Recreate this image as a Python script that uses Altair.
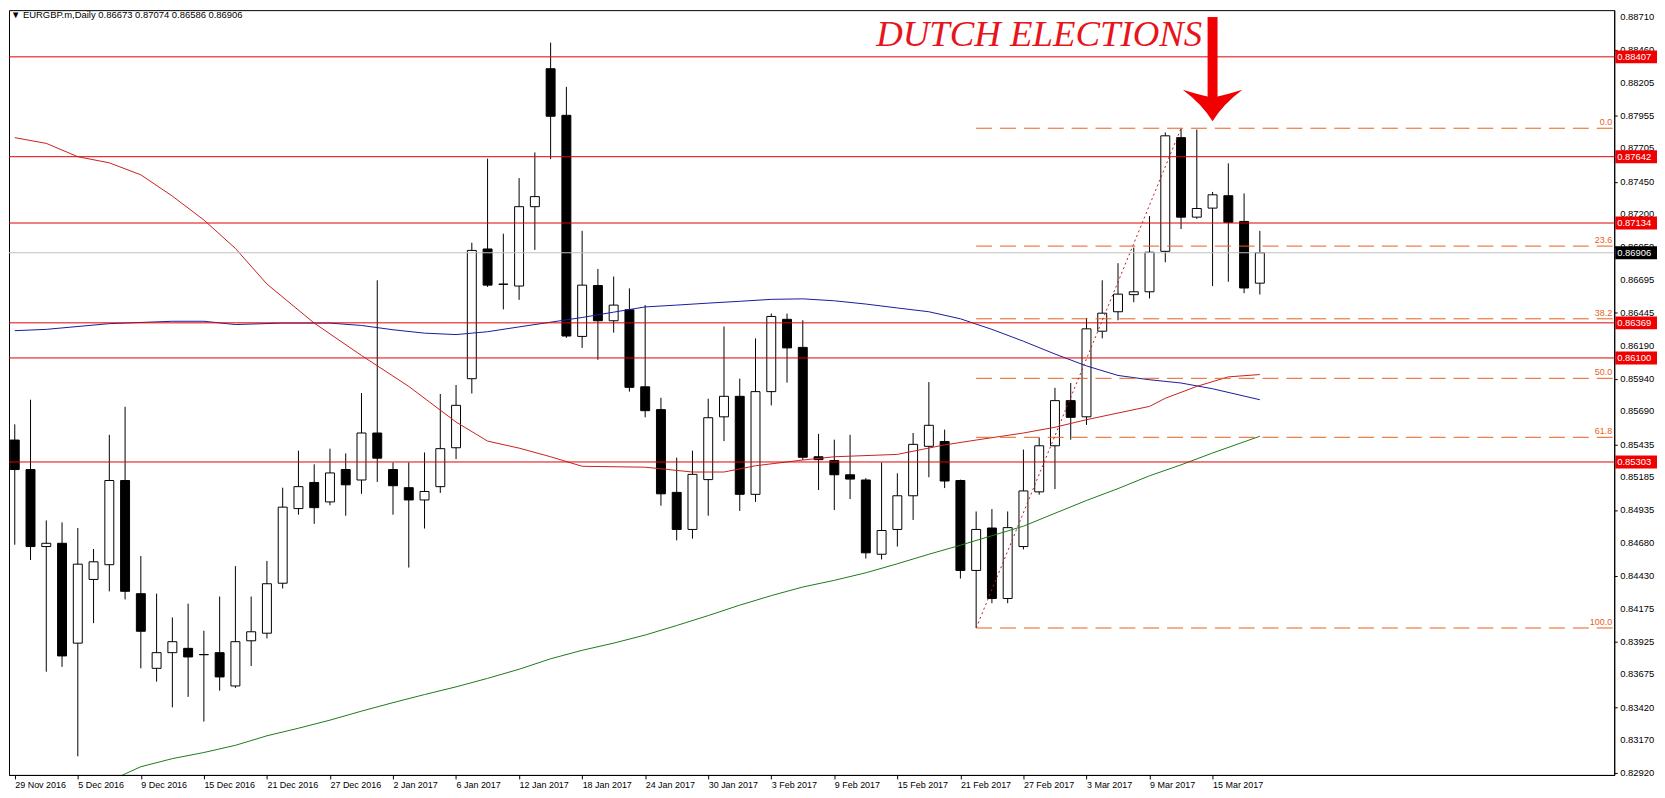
import altair as alt
import pandas as pd

# ---------------- data ----------------
bar_index = list(range(80))
opens = [0.85471, 0.85245, 0.84655, 0.84680, 0.83915, 0.84403, 0.84516, 0.85161, 0.84294, 0.83722,
         0.83842, 0.83875, 0.83828, 0.83842, 0.83587, 0.83933, 0.83991, 0.84374, 0.84946, 0.85146,
         0.84997, 0.85245, 0.85165, 0.85525, 0.85245, 0.85106, 0.85012, 0.85114, 0.85412, 0.85941,
         0.86935, 0.86666, 0.86651, 0.87259, 0.88316, 0.87959, 0.86265, 0.86655, 0.86385, 0.86469,
         0.85879, 0.85704, 0.85070, 0.84786, 0.85168, 0.85649, 0.85806, 0.85055, 0.85842, 0.86396,
         0.86181, 0.85343, 0.85314, 0.85205, 0.85165, 0.84596, 0.84786, 0.85044, 0.85423, 0.85460,
         0.85161, 0.84472, 0.84797, 0.84257, 0.84655, 0.85074, 0.85427, 0.85773, 0.85649, 0.86305,
         0.86454, 0.86585, 0.86607, 0.86917, 0.87788, 0.87179, 0.87248, 0.87343, 0.87146, 0.86673]
highs = [0.85591, 0.85780, 0.84855, 0.84840, 0.84797, 0.84636, 0.85511, 0.85726, 0.84582, 0.84294,
         0.84112, 0.84217, 0.84010, 0.84272, 0.84505, 0.84272, 0.84545, 0.85106, 0.85390, 0.85285,
         0.85405, 0.85369, 0.85831, 0.86695, 0.85299, 0.85299, 0.85376, 0.85824, 0.85893, 0.86983,
         0.87627, 0.87052, 0.87478, 0.87675, 0.88516, 0.88177, 0.87074, 0.86782, 0.86724, 0.86633,
         0.86505, 0.85795, 0.85336, 0.85390, 0.85788, 0.86341, 0.85941, 0.86250, 0.86440, 0.86440,
         0.86389, 0.85518, 0.85474, 0.85511, 0.85179, 0.85299, 0.85216, 0.85525, 0.85915, 0.85551,
         0.85168, 0.84924, 0.84942, 0.84924, 0.85398, 0.85489, 0.85871, 0.85908, 0.86407, 0.86695,
         0.86826, 0.86946, 0.87187, 0.87828, 0.87857, 0.87850, 0.87372, 0.87591, 0.87361, 0.87074]
lows = [0.84669, 0.84552, 0.83696, 0.83733, 0.83048, 0.84068, 0.84312, 0.84250, 0.83722, 0.83620,
        0.83423, 0.83503, 0.83314, 0.83551, 0.83572, 0.83740, 0.83951, 0.84334, 0.84899, 0.84829,
        0.84971, 0.84891, 0.85059, 0.85150, 0.84899, 0.84494, 0.84793, 0.85066, 0.85325, 0.85828,
        0.86644, 0.86472, 0.86545, 0.86928, 0.87624, 0.86254, 0.86177, 0.86086, 0.86294, 0.85842,
        0.85645, 0.84968, 0.84702, 0.84716, 0.84891, 0.85463, 0.84928, 0.84997, 0.85737, 0.85911,
        0.85318, 0.85088, 0.84935, 0.85019, 0.84563, 0.84556, 0.84655, 0.84859, 0.85186, 0.85103,
        0.84410, 0.84032, 0.84221, 0.84221, 0.84633, 0.85052, 0.85095, 0.85474, 0.85587, 0.86250,
        0.86389, 0.86527, 0.86556, 0.86833, 0.87088, 0.87165, 0.86651, 0.86684, 0.86596, 0.86586]
closes = [0.85245, 0.84655, 0.84680, 0.83817, 0.84520, 0.84538, 0.85161, 0.84312, 0.84006, 0.83842,
          0.83926, 0.83809, 0.83826, 0.83656, 0.83926, 0.84002, 0.84370, 0.84957, 0.85114, 0.84953,
          0.85219, 0.85128, 0.85525, 0.85332, 0.85121, 0.85012, 0.85077, 0.85405, 0.85737, 0.86924,
          0.86658, 0.86664, 0.87259, 0.87336, 0.87952, 0.86268, 0.86658, 0.86385, 0.86505, 0.85875,
          0.85696, 0.85059, 0.84786, 0.85208, 0.85642, 0.85806, 0.85055, 0.85842, 0.86418, 0.86177,
          0.85339, 0.85321, 0.85205, 0.85172, 0.84607, 0.84778, 0.85044, 0.85438, 0.85584, 0.85157,
          0.84472, 0.84786, 0.84257, 0.84800, 0.85081, 0.85427, 0.85773, 0.85645, 0.86323, 0.86443,
          0.86589, 0.86607, 0.86910, 0.87802, 0.87179, 0.87245, 0.87350, 0.87139, 0.86636, 0.86906]

date_ticks = [0, 4, 8, 12, 16, 20, 24, 28, 32, 36, 40, 44, 48, 52, 56, 60, 64, 68, 72, 76]
date_labels = ["29 Nov 2016", "5 Dec 2016", "9 Dec 2016", "15 Dec 2016", "21 Dec 2016",
               "27 Dec 2016", "2 Jan 2017", "6 Jan 2017", "12 Jan 2017", "18 Jan 2017",
               "24 Jan 2017", "30 Jan 2017", "3 Feb 2017", "9 Feb 2017", "15 Feb 2017",
               "21 Feb 2017", "27 Feb 2017", "3 Mar 2017", "9 Mar 2017", "15 Mar 2017"]

price_ticks = [0.88710, 0.88460, 0.88205, 0.87955, 0.87705, 0.87450, 0.87200, 0.86950,
               0.86695, 0.86445, 0.86190, 0.85940, 0.85690, 0.85435, 0.85185, 0.84935,
               0.84680, 0.84430, 0.84175, 0.83925, 0.83675, 0.83420, 0.83170, 0.82920]
price_tick_labels = ["0.88710", "0.88460", "0.88205", "0.87955", "0.87705", "0.87450",
                     "0.87200", "0.86950", "0.86695", "0.86445", "0.86190", "0.85940",
                     "0.85690", "0.85435", "0.85185", "0.84935", "0.84680", "0.84430",
                     "0.84175", "0.83925", "0.83675", "0.83420", "0.83170", "0.82920"]

level_prices = [0.88407, 0.87642, 0.87134, 0.86369, 0.86100, 0.85303]
level_labels = ["0.88407", "0.87642", "0.87134", "0.86369", "0.86100", "0.85303"]
current_price = [0.86906]
current_label = ["0.86906"]

red_ma_idx = [0, 2, 4, 6, 8, 10, 12, 14, 16, 19, 22, 25, 28, 30, 32, 34, 36, 40, 43, 45, 47,
              50, 52, 56, 59, 61, 64, 66, 68, 72, 73, 75, 77, 79]
red_ma_val = [0.87788, 0.87744, 0.87642, 0.87595, 0.87503, 0.87340, 0.87157, 0.86939, 0.86666,
              0.86367, 0.86119, 0.85882, 0.85609, 0.85463, 0.85409, 0.85343, 0.85270, 0.85263,
              0.85226, 0.85226, 0.85274, 0.85318, 0.85343, 0.85361, 0.85434, 0.85471, 0.85525,
              0.85569, 0.85627, 0.85729, 0.85791, 0.85882, 0.85955, 0.85973]

blue_ma_idx = [0, 2, 6, 10, 12, 14, 17, 20, 22, 24, 26, 28, 30, 32, 34, 36, 38, 40, 42, 44, 46,
               48, 50, 52, 54, 56, 58, 60, 62, 64, 66, 68, 70, 72, 74, 76, 79]
blue_ma_val = [0.86309, 0.86319, 0.86363, 0.86381, 0.86381, 0.86356, 0.86367, 0.86367, 0.86349,
               0.86316, 0.86290, 0.86279, 0.86301, 0.86338, 0.86374, 0.86410, 0.86451, 0.86491,
               0.86505, 0.86520, 0.86534, 0.86549, 0.86553, 0.86538, 0.86513, 0.86483, 0.86454,
               0.86400, 0.86319, 0.86228, 0.86130, 0.86039, 0.85966, 0.85933, 0.85908, 0.85864,
               0.85780]

green_ma_idx = [6, 8, 10, 12, 14, 16, 18, 20, 22, 24, 26, 28, 30, 32, 34, 36, 38, 40, 42, 44,
                46, 48, 50, 52, 54, 56, 58, 60, 62, 64, 66, 68, 70, 72, 74, 76, 79]
green_ma_val = [0.82858, 0.82968, 0.83030, 0.83077, 0.83132, 0.83205, 0.83263, 0.83325, 0.83394,
                0.83459, 0.83521, 0.83580, 0.83645, 0.83715, 0.83795, 0.83860, 0.83915, 0.83977,
                0.84050, 0.84126, 0.84206, 0.84279, 0.84345, 0.84396, 0.84454, 0.84523, 0.84596,
                0.84665, 0.84738, 0.84811, 0.84910, 0.85008, 0.85099, 0.85197, 0.85281, 0.85372,
                0.85500]

fib_labels = ["0.0", "23.6", "38.2", "50.0", "61.8", "100.0"]
fib_prices = [0.87860, 0.86957, 0.86400, 0.85944, 0.85492, 0.84031]
fib_start = [61, 61, 61, 61, 61, 61]

trend_idx = [61, 74]
trend_val = [0.84031, 0.87860]

title_text = ["\u25bc EURGBP.m,Daily  0.86673 0.87074 0.86586 0.86906"]
note_text = ["DUTCH ELECTIONS"]
note_idx = [65]
note_price = [0.88491]
arrow_idx = [76]
arrow_top = [0.88712]
arrow_bottom = [0.88095]
arrow_head = [0.88034]

# ---------------- styling ----------------
PLOT_W = 1614
PLOT_H = 769
FONT = "Liberation Sans"
LEVEL_RED = "#E00000"
FIB = "#E8601C"

xs = alt.Scale(domain=[-0.05, 101.17], nice=False, zero=False)
ys = alt.Scale(domain=[0.82905, 0.88765], nice=False, zero=False)

label_expr = "[" + ",".join("'%s'" % s for s in date_labels) + "][round(datum.value / 4)]"

x_axis = alt.Axis(values=date_ticks, labelExpr=label_expr, title=None, grid=False,
                  labelAlign="left", labelFontSize=9, labelPadding=2, tickSize=4,
                  labelFont=FONT, labelColor="black", domainColor="black", tickColor="black",
                  labelOverlap=False, labelBound=False, labelFlush=False)
y_axis = alt.Axis(values=price_ticks, orient="right", title=None, grid=False,
                  labels=False, tickSize=3, domainColor="black", tickColor="black")

candles = pd.DataFrame({"i": bar_index, "o": opens, "h": highs, "l": lows, "c": closes})

base = alt.Chart(candles)
wicks = base.mark_rule(color="black", strokeWidth=1, clip=True).encode(
    x=alt.X("i:Q", scale=xs, axis=x_axis),
    y=alt.Y("l:Q", scale=ys, axis=y_axis),
    y2="h:Q",
)
bodies = base.mark_bar(width=9, stroke="black", strokeWidth=1, clip=True).encode(
    x=alt.X("i:Q", scale=xs),
    y=alt.Y("o:Q", scale=ys),
    y2="c:Q",
    fill=alt.condition("datum.c >= datum.o", alt.value("white"), alt.value("black")),
)


def ma_line(idx, vals, color):
    df = pd.DataFrame({"i": idx, "v": vals})
    return alt.Chart(df).mark_line(color=color, strokeWidth=1, clip=True).encode(
        x=alt.X("i:Q", scale=xs), y=alt.Y("v:Q", scale=ys))


red_ma = ma_line(red_ma_idx, red_ma_val, "#C8201E")
blue_ma = ma_line(blue_ma_idx, blue_ma_val, "#1A1AA0")
green_ma = ma_line(green_ma_idx, green_ma_val, "#1C7A1C")

trend = alt.Chart(pd.DataFrame({"i": trend_idx, "v": trend_val})).mark_line(
    color="#B81C1C", strokeWidth=1, strokeDash=[2, 3], clip=True).encode(
    x=alt.X("i:Q", scale=xs), y=alt.Y("v:Q", scale=ys))

# price labels of the right axis
ptick_df = pd.DataFrame({"p": price_ticks, "t": price_tick_labels})
ptick_texts = alt.Chart(ptick_df).mark_text(
    color="black", fontSize=9.5, font=FONT, align="left", baseline="middle", clip=False).encode(
    x=alt.value(PLOT_W + 6), y=alt.Y("p:Q", scale=ys), text="t:N")

levels_df = pd.DataFrame({"p": level_prices, "t": level_labels})
levels = alt.Chart(levels_df).mark_rule(color=LEVEL_RED, strokeWidth=1).encode(
    y=alt.Y("p:Q", scale=ys))
level_boxes = alt.Chart(levels_df).mark_tick(
    color="#F00000", size=42, thickness=13, opacity=1, orient="horizontal", clip=False).encode(
    x=alt.value(PLOT_W + 22), y=alt.Y("p:Q", scale=ys))
level_texts = alt.Chart(levels_df).mark_text(
    color="white", fontSize=9.5, font=FONT, align="left", baseline="middle", clip=False).encode(
    x=alt.value(PLOT_W + 3), y=alt.Y("p:Q", scale=ys), text="t:N")

cur_df = pd.DataFrame({"p": current_price, "t": current_label})
cur_line = alt.Chart(cur_df).mark_rule(color="#C0C0C0", strokeWidth=1).encode(
    y=alt.Y("p:Q", scale=ys))
cur_box = alt.Chart(cur_df).mark_tick(
    color="black", size=42, thickness=13, opacity=1, orient="horizontal", clip=False).encode(
    x=alt.value(PLOT_W + 22), y=alt.Y("p:Q", scale=ys))
cur_text = alt.Chart(cur_df).mark_text(
    color="white", fontSize=9.5, font=FONT, align="left", baseline="middle", clip=False).encode(
    x=alt.value(PLOT_W + 3), y=alt.Y("p:Q", scale=ys), text="t:N")

fib_df = pd.DataFrame({"s": fib_start, "p": fib_prices, "t": fib_labels})
fib_lines = alt.Chart(fib_df).mark_rule(color=FIB, strokeWidth=1, strokeDash=[16, 8], clip=True).encode(
    x=alt.X("s:Q", scale=xs), x2=alt.value(PLOT_W), y=alt.Y("p:Q", scale=ys))
fib_texts = alt.Chart(fib_df).mark_text(
    color=FIB, fontSize=9, font=FONT, align="right", baseline="bottom", dy=-1).encode(
    x=alt.value(PLOT_W - 2), y=alt.Y("p:Q", scale=ys), text="t:N")

title = alt.Chart(pd.DataFrame({"t": title_text})).mark_text(
    fontSize=9.5, font=FONT, color="black", align="left", baseline="middle").encode(
    x=alt.value(2), y=alt.value(5), text="t:N")

note = alt.Chart(pd.DataFrame({"i": note_idx, "p": note_price, "t": note_text})).mark_text(
    fontSize=37, font="Liberation Serif", fontStyle="italic", color="#E8141B",
    align="center", baseline="alphabetic").encode(
    x=alt.X("i:Q", scale=xs), y=alt.Y("p:Q", scale=ys), text="t:N")

arrow_df = pd.DataFrame({"i": arrow_idx, "top": arrow_top, "bot": arrow_bottom, "head": arrow_head})
shaft = alt.Chart(arrow_df).mark_rule(color="#F00000", strokeWidth=10).encode(
    x=alt.X("i:Q", scale=xs), y=alt.Y("top:Q", scale=ys), y2="bot:Q")
head_shape = ("M -1 -0.53 Q -0.5 -0.38 -0.17 -0.3 L 0.17 -0.3 Q 0.5 -0.38 1 -0.53 "
              "Q 0.35 -0.05 0 0.53 Q -0.35 -0.05 -1 -0.53 Z")
head = alt.Chart(arrow_df).mark_point(shape=head_shape, size=3600, filled=True,
                                      color="#F00000", opacity=1, strokeWidth=0).encode(
    x=alt.X("i:Q", scale=xs), y=alt.Y("head:Q", scale=ys))

chart = alt.layer(
    wicks, bodies, green_ma, blue_ma, red_ma, cur_line, levels, fib_lines, trend,
    fib_texts, ptick_texts, level_boxes, level_texts, cur_box, cur_text, title, note, shaft, head,
).properties(
    width=PLOT_W, height=PLOT_H,
    padding={"left": 0, "top": 0, "right": 0, "bottom": 0},
    background="white",
).configure_view(
    stroke="black", strokeWidth=1,
)

chart.save("out.html", embed_options={"renderer": "svg", "actions": False})
